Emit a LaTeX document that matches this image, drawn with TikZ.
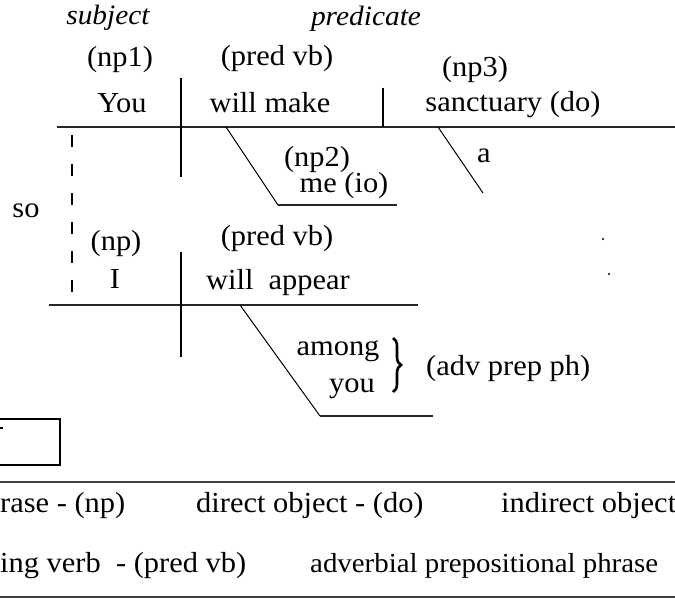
\documentclass[tikz,border=0pt]{standalone}
\usepackage{fontspec}
\setmainfont{Liberation Serif}[FakeStretch=1.05]
\usetikzlibrary{decorations.pathreplacing}
\begin{document}
\begin{tikzpicture}[x=1pt,y=-1pt,
  txt/.style={inner sep=0pt, anchor=base, font=\fontsize{29}{33}\selectfont},
  ltxt/.style={inner sep=0pt, anchor=base west, font=\fontsize{29}{33}\selectfont},
  itx/.style={inner sep=0pt, anchor=base, font=\fontsize{28}{32}\selectfont\itshape},
  mainline/.style={line width=2pt, draw=black!85},
  divline/.style={line width=1.4pt},
  slant/.style={line width=1pt},
  dashline/.style={line width=1.4pt, dash pattern=on 12pt off 17pt}]
\useasboundingbox (0,0) rectangle (675,599);
% headings
\node[itx] (subj) at (108,25) {subject};
\node[itx] (pred) at (366,26) {predicate};
% first clause labels
\node[txt] (np1) at (120,67) {(np1)};
\node[txt] (pvb1) at (277,66) {(pred vb)};
\node[txt] (np3) at (475,77) {(np3)};
\node[txt] (you) at (122,113) {You};
\node[txt] (wm) at (270,113) {will make};
\node[txt] (sanc) at (513,112) {sanctuary (do)};
\node[txt] (np2) at (317,167) {(np2)};
\node[txt] (me) at (344,193) {me (io)};
\node[txt] (a) at (484,163) {a};
% coordinates clause 1
\coordinate (L1a) at (57,127);
\coordinate (L1b) at (675,127);
\coordinate (V1a) at (181,78);
\coordinate (V1b) at (181,177);
\coordinate (V2a) at (383,88);
\coordinate (V2b) at (383,127);
\coordinate (S1a) at (226,127);
\coordinate (S1b) at (278,205);
\coordinate (S1c) at (397,205);
\coordinate (S2a) at (438,127);
\coordinate (S2b) at (483,193);
\draw[mainline] (L1a) -- (L1b);
\draw[divline] (V1a) -- (V1b);
\draw[divline] (V2a) -- (V2b);
\draw[slant] (S1a) -- (S1b);
\draw[mainline] (S1b) -- (S1c);
\draw[slant] (S2a) -- (S2b);
% connector so
\node[txt] (so) at (26,218) {so};
\coordinate (Da) at (72,135);
\coordinate (Db) at (72,297);
\draw[dashline] (Da) -- (Db);
% second clause
\node[txt] (np) at (116,250) {(np)};
\node[txt] (I) at (115,288) {I};
\node[txt] (pvb2) at (277,245) {(pred vb)};
\node[txt] (wa) at (278,289) {will\ \ appear};
\node[txt] (among) at (338,355) {among};
\node[txt] (you2) at (352,392) {you};
\node[ltxt] (adv) at (426,375) {(adv prep ph)};
\coordinate (L2a) at (49,305);
\coordinate (L2b) at (418,305);
\coordinate (V3a) at (181,252);
\coordinate (V3b) at (181,357);
\coordinate (S3a) at (240,305);
\coordinate (S3b) at (320,416);
\coordinate (S3c) at (433,416);
\coordinate (Ba) at (393,338);
\coordinate (Bb) at (393,392);
\draw[mainline] (L2a) -- (L2b);
\draw[divline] (V3a) -- (V3b);
\draw[slant] (S3a) -- (S3b);
\draw[mainline] (S3b) -- (S3c);
\draw[line width=2.6pt, decorate, decoration={brace, amplitude=8pt}] (Ba) -- (Bb);
% stray dots
\fill (603,239) circle (1.2pt);
\fill (609,274) circle (1.2pt);
% key box
\coordinate (Ka) at (-5,419);
\coordinate (Kb) at (60,465);
\draw[divline] (Ka) rectangle (Kb);
\draw[line width=1.2pt] (0,428) -- (3,428);
% legend
\coordinate (G1a) at (0,482);
\coordinate (G1b) at (675,482);
\coordinate (G2a) at (0,597);
\coordinate (G2b) at (675,597);
\draw[divline, draw=black!75] (G1a) -- (G1b);
\draw[divline, draw=black!75] (G2a) -- (G2b);
\node[ltxt] (k1) at (0,512) {rase - (np)};
\node[ltxt] (k2) at (196,512) {direct object - (do)};
\node[ltxt] (k3) at (501,512) {indirect object};
\node[ltxt] (k4) at (0,572) {ing verb\ \ - (pred vb)};
\node[ltxt, font=\fontsize{27.5}{32}\selectfont] (k5) at (310,572) {adverbial prepositional phrase};
\end{tikzpicture}
\end{document}
